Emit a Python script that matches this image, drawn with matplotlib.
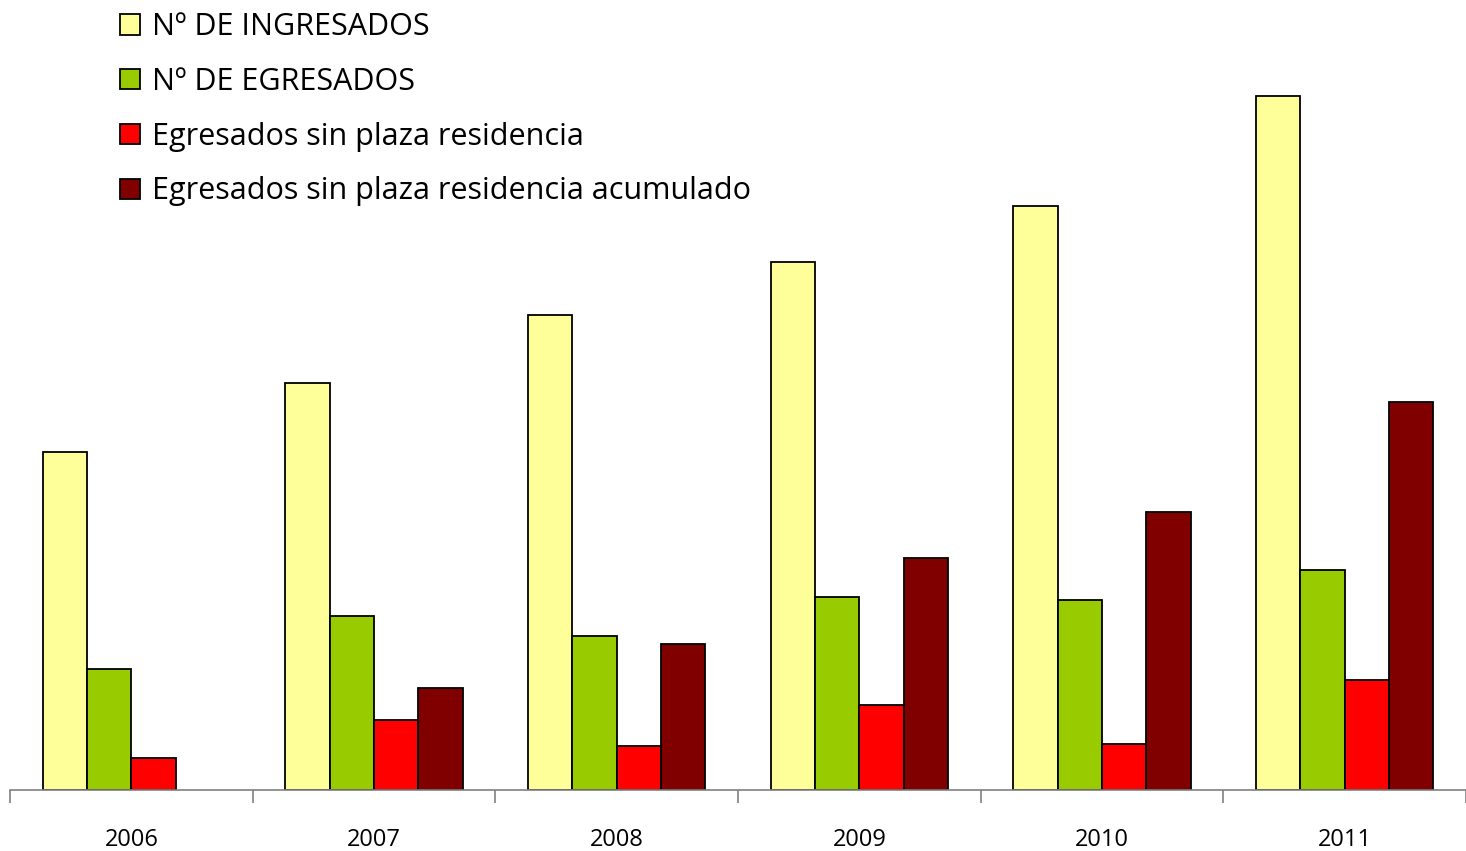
import matplotlib.pyplot as plt
import numpy as np

plt.rcParams['font.family'] = ['Open Sans', 'DejaVu Sans']

# data (arbitrary units, no y-axis shown)
years = ['2006', '2007', '2008', '2009', '2010', '2011']
ingresados = [338, 407, 475, 528, 584, 694]
egresados = [121, 174, 154, 193, 190, 220]
sin_plaza = [32, 70, 44, 85, 46, 110]
sin_plaza_acum = [0, 102, 146, 232, 278, 388]

series = [
    ('Nº DE INGRESADOS', ingresados, '#FFFF99'),
    ('Nº DE EGRESADOS', egresados, '#99CC00'),
    ('Egresados sin plaza residencia', sin_plaza, '#FF0000'),
    ('Egresados sin plaza residencia acumulado', sin_plaza_acum, '#800000'),
]

fig = plt.figure(figsize=(14.66, 8.51), dpi=100)
ax = fig.add_axes([10 / 1466, 61 / 851, 1456 / 1466, 790 / 851])

x = np.arange(len(years))
w = 0.183
for i, (name, vals, col) in enumerate(series):
    vals = np.array(vals, dtype=float)
    h = np.where(vals > 0, vals, np.nan)
    ax.bar(x + (i - 1.5) * w, h, width=w, color=col, edgecolor='black',
           linewidth=1.3, label=name)

ax.set_xlim(-0.5, len(years) - 0.5)
ax.set_ylim(0, 790)
ax.set_yticks([])
for s in ['top', 'right', 'left']:
    ax.spines[s].set_visible(False)
ax.spines['bottom'].set_color('#808080')
ax.spines['bottom'].set_linewidth(1.2)

ax.set_xticks(np.arange(len(years) + 1) - 0.5)
ax.set_xticklabels([])
ax.set_xticks(x, minor=True)
ax.set_xticklabels(years, minor=True, fontsize=17)
ax.tick_params(axis='x', which='major', length=9, color='#808080', width=1.2)
ax.tick_params(axis='x', which='minor', length=0, pad=27)

ax.legend(loc='upper left', bbox_to_anchor=(98 / 1456, 1.0),
          frameon=False, fontsize=22, handlelength=0.65, handleheight=0.65,
          handletextpad=0.4, labelspacing=0.81, borderaxespad=0)

fig.savefig('out.png', dpi=100)
